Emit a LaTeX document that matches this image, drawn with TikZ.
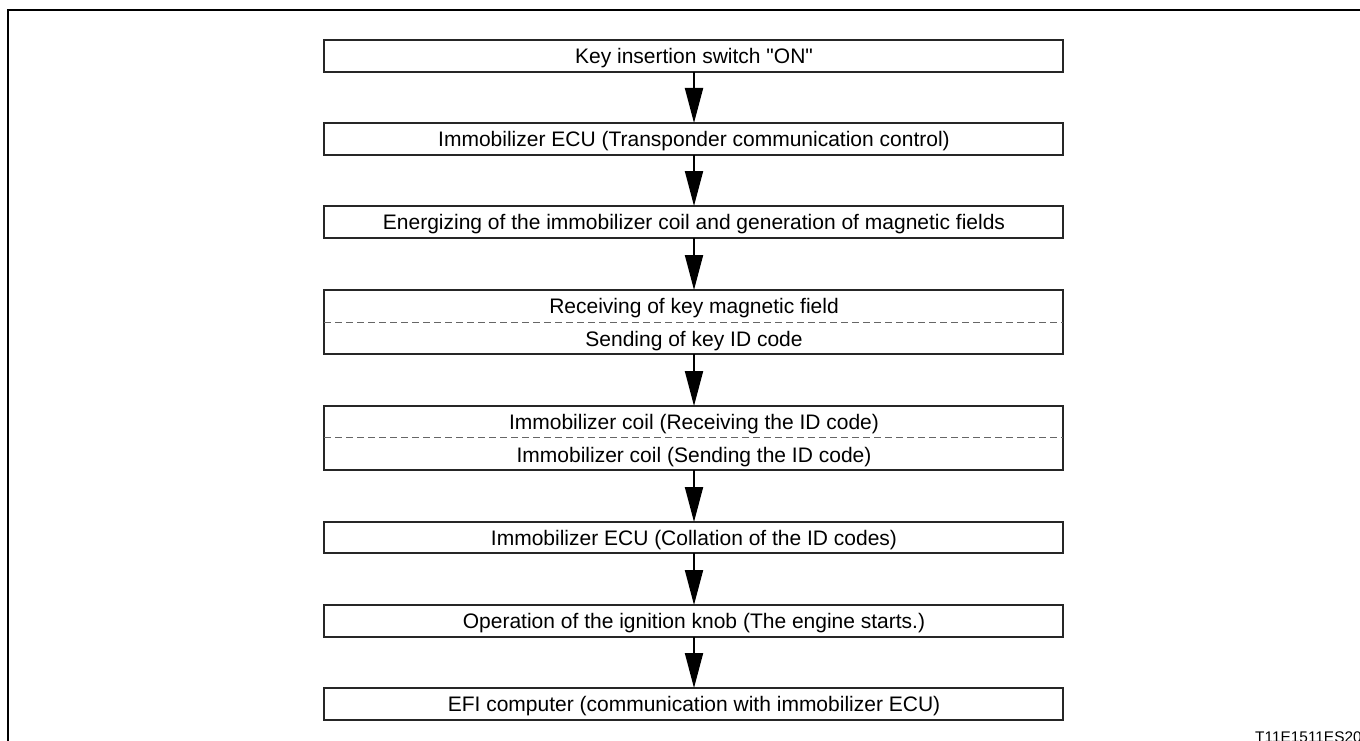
\documentclass[tikz,border=0pt]{standalone}
\usepackage{fontspec}
\newfontfamily\lsans{Liberation Sans}
\usetikzlibrary{arrows.meta}
\begin{document}
\begin{tikzpicture}[x=1pt,y=-1pt,
  stepbox/.style={draw=black!85,line width=1.3pt},
  lbl/.style={font=\lsans\fontsize{21}{24}\selectfont,inner sep=0pt,anchor=base,yshift=-7.5pt},
  flow/.style={line width=2pt,-{Triangle[length=35pt,width=18pt]}},
  divider/.style={draw=black!60,line width=1.2pt,dash pattern=on 7pt off 4pt}]
\useasboundingbox (0,0) rectangle (1360,741);
\draw[line width=1.4pt] (1360,10) -- (8,10) -- (8,741);
% boxes
\draw[stepbox] (324,40) rectangle (1063,72);
\coordinate (b1t) at (694,40); \coordinate (b1b) at (694,72);
\node[lbl] (t1) at (694,56) {Key insertion switch "ON"};
\draw[stepbox] (324,123) rectangle (1063,155);
\coordinate (b2t) at (694,123); \coordinate (b2b) at (694,155);
\node[lbl] (t2) at (694,139) {Immobilizer ECU (Transponder communication control)};
\draw[stepbox] (324,206) rectangle (1063,238);
\coordinate (b3t) at (694,206); \coordinate (b3b) at (694,238);
\node[lbl] (t3) at (694,222) {Energizing of the immobilizer coil and generation of magnetic fields};
\draw[stepbox] (324,290) rectangle (1063,354);
\draw[divider] (324,322.5) -- (1063,322.5);
\coordinate (b4t) at (694,290); \coordinate (b4b) at (694,354);
\node[lbl] (t4a) at (694,306) {Receiving of key magnetic field};
\node[lbl] (t4b) at (694,339) {Sending of key ID code};
\draw[stepbox] (324,406) rectangle (1063,470);
\draw[divider] (324,437.5) -- (1063,437.5);
\coordinate (b5t) at (694,406); \coordinate (b5b) at (694,470);
\node[lbl] (t5a) at (694,422) {Immobilizer coil (Receiving the ID code)};
\node[lbl] (t5b) at (694,455) {Immobilizer coil (Sending the ID code)};
\draw[stepbox] (324,522) rectangle (1063,553);
\coordinate (b6t) at (694,522); \coordinate (b6b) at (694,553);
\node[lbl] (t6) at (694,538) {Immobilizer ECU (Collation of the ID codes)};
\draw[stepbox] (324,605) rectangle (1063,637);
\coordinate (b7t) at (694,605); \coordinate (b7b) at (694,637);
\node[lbl] (t7) at (694,621) {Operation of the ignition knob (The engine starts.)};
\draw[stepbox] (324,688) rectangle (1063,720);
\coordinate (b8t) at (694,688); \coordinate (b8b) at (694,720);
\node[lbl] (t8) at (694,704) {EFI computer (communication with immobilizer ECU)};
% arrows
\draw[flow] (b1b) -- (b2t);
\draw[flow] (b2b) -- (b3t);
\draw[flow] (b3b) -- (b4t);
\draw[flow] (b4b) -- (b5t);
\draw[flow] (b5b) -- (b6t);
\draw[flow] (b6b) -- (b7t);
\draw[flow] (b7b) -- (b8t);
\node[font=\lsans\fontsize{15.4}{17}\selectfont,inner sep=0pt,anchor=base west] (code) at (1255,742) {T11E1511ES20};
\end{tikzpicture}
\end{document}
